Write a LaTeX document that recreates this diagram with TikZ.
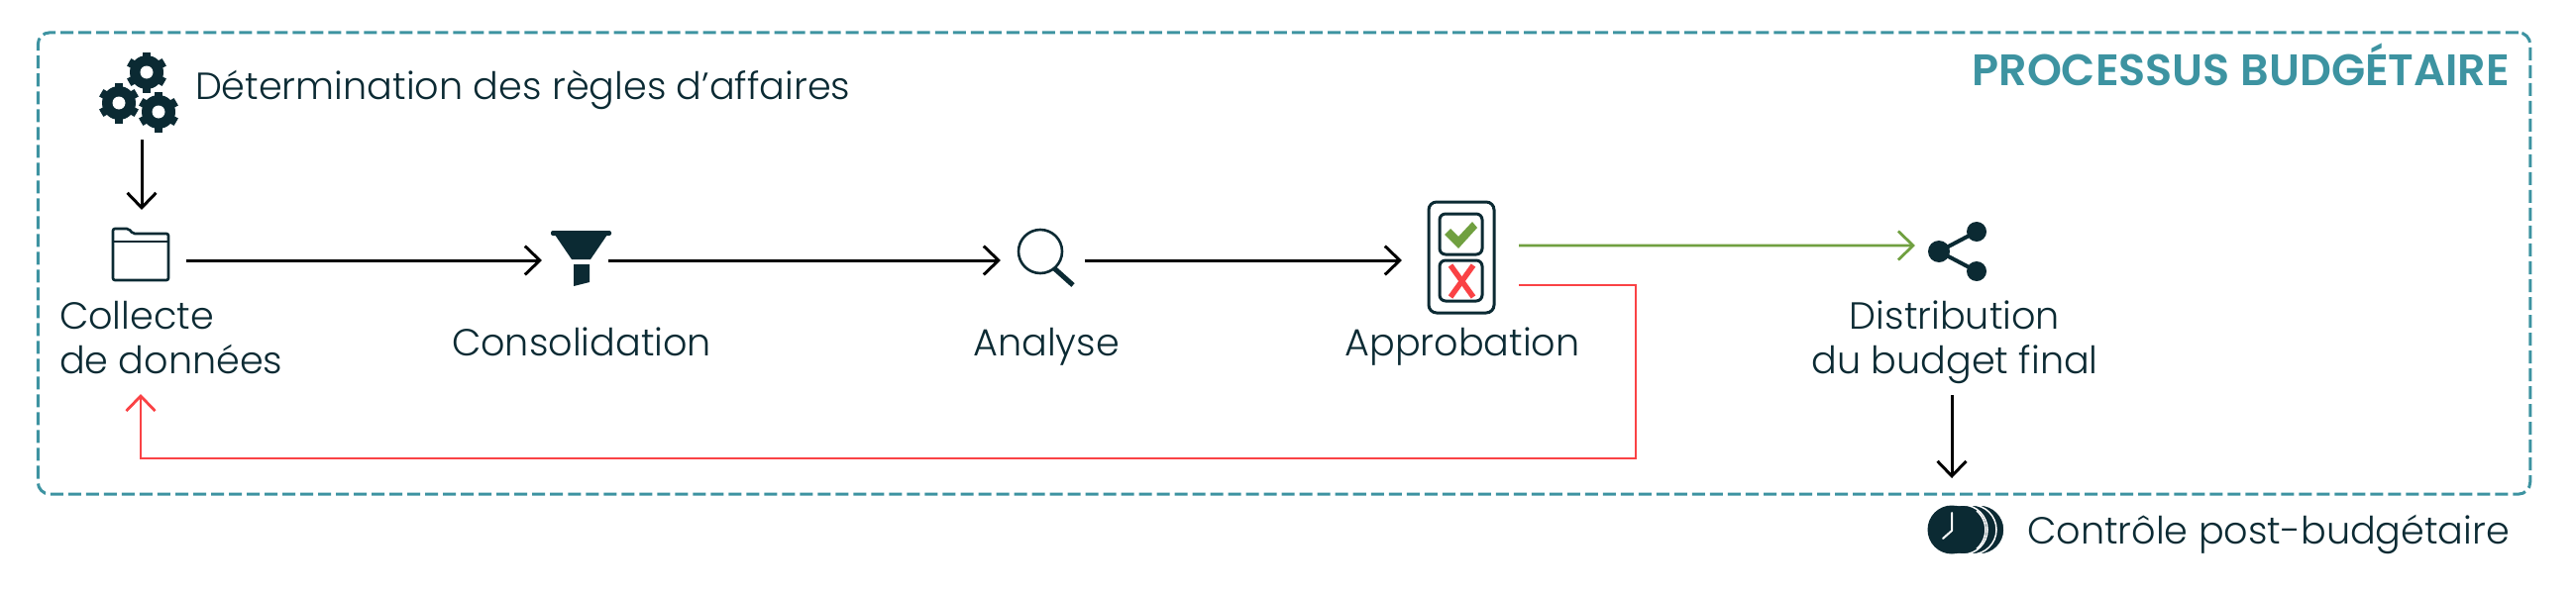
\documentclass[tikz,border=0pt]{standalone}
\usepackage{fontspec}
\usepackage{xcolor}
\usetikzlibrary{arrows.meta}
\setmainfont{Poppins}[UprightFont=* Light,BoldFont=* SemiBold]
\definecolor{inkblue}{HTML}{0B2A33}
\definecolor{tealframe}{HTML}{3D93A1}
\definecolor{okgreen}{HTML}{70A040}
\definecolor{nored}{HTML}{FA4245}
\newcommand{\drawgear}[2]{
\foreach \a in {30,90,...,330} \draw [line width=0.085cm, inkblue] (#1,#2) -- ++(\a:20.5);
\fill [inkblue] (#1,#2) circle (17);
\fill [white] (#1,#2) circle (6.5);
}
\tikzset{
  label/.style={font=\fontsize{10.85}{12.8}\selectfont, text=inkblue, inner sep=0pt, outer sep=0pt},
  slot/.style={inner sep=0pt, outer sep=0pt},
  flow/.style={line width=0.03cm, -{Straight Barb[length=0.15cm,width=0.29cm]}},
  iconline/.style={line width=0.026cm, inkblue}
}
\begin{document}
\begin{tikzpicture}[x=0.01cm,y=-0.01cm]
\useasboundingbox (0,0) rectangle (2600,600);

\node [draw=tealframe, line width=0.03cm, dash pattern=on 0.13cm off 0.05cm, rounded corners=0.12cm, slot, minimum width=25.14cm, minimum height=4.66cm] (frame) at (1296,266) {};
\node [label, anchor=base east, text=tealframe, font=\fontsize{12.65}{14}\selectfont\bfseries] (title) at (2533,86) {PROCESSUS BUDGÉTAIRE};

\node [slot, minimum width=0.9cm, minimum height=0.96cm] (gears) at (143,93) {};
\node [slot, minimum width=0.9cm, minimum height=1.02cm] (folder) at (143,263) {};
\node [slot, minimum width=0.67cm, minimum height=0.6cm] (funnel) at (580.5,263) {};
\node [slot, minimum width=0.85cm, minimum height=0.6cm] (glass) at (1052.5,263) {};
\node [slot, minimum width=1.18cm, minimum height=0.4cm] (approval) at (1474,268) {};
\node [slot, minimum width=0.84cm, minimum height=0.6cm] (share) at (1975,248) {};
\coordinate (distout) at (1970,399);
\coordinate (ctrlin) at (1970,483);
\coordinate (backturn) at (1651,463);
\coordinate (backin) at (142,398);

\node [label, anchor=base west] (rules) at (197,100) {Détermination des règles d’affaires};
\node [label, anchor=north west, align=left] (collect) at (60,304) {Collecte\\de données};
\node [label, anchor=base] (consol) at (587,359) {Consolidation};
\node [label, anchor=base] (analysis) at (1056,359) {Analyse};
\node [label, anchor=base] (approve) at (1476,359) {Approbation};
\node [label, anchor=north, align=center] (distrib) at (1973,304) {Distribution\\du budget final};
\node [label, anchor=base east] (postctrl) at (2533,549) {Contrôle post-budgétaire};

\draw [flow] (gears) -- (folder);
\draw [flow] (folder) -- (funnel);
\draw [flow] (funnel) -- (glass);
\draw [flow] (glass) -- (glass -| approval.west);
\draw [flow, okgreen, line width=0.028cm] (approval.north east) -- (share.west);
\draw [flow, nored, line width=0.028cm] (approval.south east) -| (backturn) -| (backin);
\draw [flow] (distout) -- (ctrlin);

\drawgear{148}{73}
\drawgear{120}{104}
\drawgear{160}{113}

\draw [iconline, rounded corners=0.02cm] (114,283) -- (114,231) -- (130,231) -- (134,236) -- (170,236) -- (170,283) -- cycle;
\draw [iconline] (114,244) -- (170,244);

\fill [inkblue, rounded corners=0.02cm] (556,233) -- (617,233) -- (617,238) -- (556,238) -- cycle;
\fill [inkblue] (560,237) -- (577,262) -- (596,262) -- (613,237) -- cycle;
\fill [inkblue] (579,267) -- (595,267) -- (595,285) -- (579,289) -- cycle;

\draw [iconline] (1050,254) circle (22);
\draw [line width=0.05cm, inkblue] (1064,271) -- (1083,288);

\draw [line width=0.03cm, inkblue, rounded corners=0.08cm] (1442,204) rectangle (1508,316);
\draw [line width=0.03cm, inkblue, rounded corners=0.06cm] (1453,216) rectangle (1496,257);
\draw [line width=0.03cm, inkblue, rounded corners=0.06cm] (1453,263) rectangle (1496,304);
\fill [okgreen] (1458,237) -- (1464,231) -- (1472,239) -- (1486,224) -- (1491,230) -- (1472,251) -- cycle;
\draw [line width=0.055cm, nored] (1464,268) -- (1487,300);
\draw [line width=0.055cm, nored] (1487,268) -- (1464,300);

\draw [line width=0.04cm, inkblue] (1995,234) -- (1957,254) -- (1995,274);
\fill [inkblue] (1995,234) circle (10);
\fill [inkblue] (1957,254) circle (11);
\fill [inkblue] (1995,274) circle (10);

\foreach \cx in {1998,1990,1981}
  \draw [fill=inkblue, draw=white, line width=0.015cm] (\cx,535) circle (25);
\fill [inkblue] (1970,535) circle (24.5);
\draw [white, line width=0.015cm] (1995,516) arc (-50:50:25);
\draw [white, line width=0.02cm, line cap=round] (1970,518) -- (1970,536) -- (1961,544);
\end{tikzpicture}
\end{document}
